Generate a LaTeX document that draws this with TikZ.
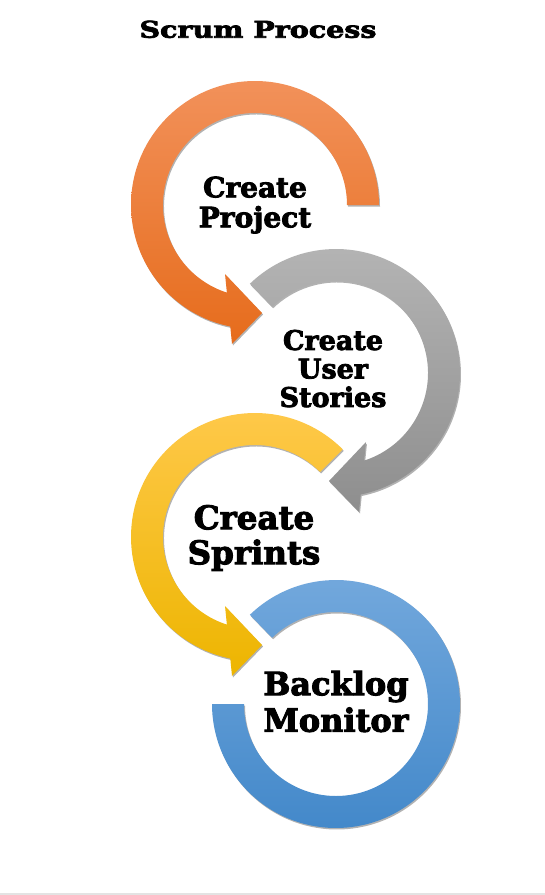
\documentclass[tikz,border=0pt]{standalone}
\usepackage{graphicx}
\usepackage{fontspec}
\setmainfont{DejaVu Serif}[BoldFeatures={FakeBold=3}]
\usetikzlibrary{shadows}
\definecolor{orTop}{HTML}{F2915A}
\definecolor{orBot}{HTML}{E66C1C}
\definecolor{grTop}{HTML}{B5B5B5}
\definecolor{grBot}{HTML}{8E8E8E}
\definecolor{yeTop}{HTML}{FFC94C}
\definecolor{yeBot}{HTML}{EDB500}
\definecolor{blTop}{HTML}{74A9DD}
\definecolor{blBot}{HTML}{4187C9}
\begin{document}
\begin{tikzpicture}[x=1pt,y=-1pt,
  ringshadow/.style={drop shadow={shadow xshift=1pt,shadow yshift=-1.5pt,opacity=0.3,fill=black}},
  lbl/.style={align=center,text=black,inner sep=0pt}]
\useasboundingbox (0,0) rectangle (545,895);
\fill[white] (0,0) rectangle (545,895);
\fill[gray!22] (0,893) rectangle (545,895);
% orange
\begin{scope}[shift={(255,205)}]
\shade[top color=orTop,bottom color=orBot,ringshadow]
  (0:124) arc[start angle=0,end angle=-258.5,radius=124] -- (-23,139) -- (7,108) -- (-30,69)
  -- (-252.2:92) arc[start angle=-252.2,end angle=0,radius=92] -- cycle;
\end{scope}
% gray
\begin{scope}[shift={(336,373)}]
\shade[top color=grTop,bottom color=grBot,ringshadow]
  (-134:124) arc[start angle=-134,end angle=78.5,radius=124] -- (23,139) -- (-7,108) -- (30,69)
  -- (72.2:92) arc[start angle=72.2,end angle=-134,radius=92] -- cycle;
\end{scope}
% yellow
\begin{scope}[shift={(255,537)}]
\shade[top color=yeTop,bottom color=yeBot,ringshadow]
  (-45:124) arc[start angle=-45,end angle=-258.5,radius=124] -- (-23,139) -- (7,108) -- (-30,69)
  -- (-252.2:92) arc[start angle=-252.2,end angle=-45,radius=92] -- cycle;
\end{scope}
% blue
\begin{scope}[shift={(336,704)}]
\shade[top color=blTop,bottom color=blBot,ringshadow]
  (-134:124) arc[start angle=-134,end angle=180,radius=124]
  -- (180:92) arc[start angle=180,end angle=-134,radius=92] -- cycle;
\end{scope}
\node[lbl,anchor=base,font=\fontsize{23}{26}\selectfont\bfseries] (title) at (258,37.7) {\scalebox{1.24}[1]{Scrum Process}};
\node[lbl,font=\fontsize{28}{30}\selectfont\bfseries] (t1) at (255,205) {Create\\Project};
\node[lbl,font=\fontsize{27}{28.5}\selectfont\bfseries] (t2) at (333,368.6) {Create\\User\\Stories};
\node[lbl,font=\fontsize{32.5}{35}\selectfont\bfseries] (t3) at (254,538) {Create\\Sprints};
\node[lbl,font=\fontsize{32}{36.5}\selectfont\bfseries] (t4) at (336,701.5) {Backlog\\Monitor};
\end{tikzpicture}
\end{document}
